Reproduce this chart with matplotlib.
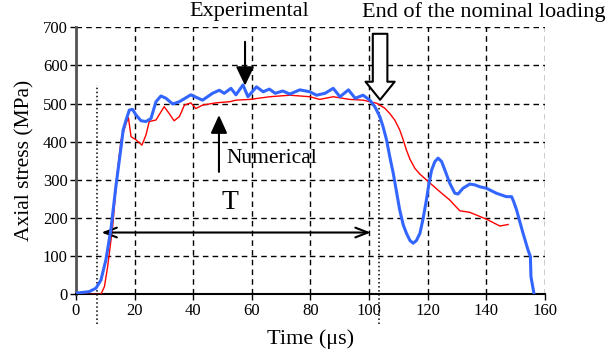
import numpy as np
import matplotlib.pyplot as plt

plt.rcParams['font.family'] = ['Liberation Serif', 'DejaVu Serif']
plt.rcParams['figure.dpi'] = 100

# experimental curve (blue)
t_exp = [0, 4.5, 6.8, 8.5, 10.2, 11.9, 13.6, 15.4, 16.1, 17.1, 18.2, 19.3, 20.5, 22.2, 23.9,
         25.6, 27.3, 29, 30.7, 33, 35.3, 39.2, 43.2, 46.6, 48.9, 50.6, 52.9, 54.6,
         57, 58.7, 61.6, 63.9, 66, 68, 70.6, 73, 76.4, 79.8, 82.1, 85, 87.8, 90.1,
         93, 95.3, 98, 100.3, 102, 103.7, 104.8, 106, 107.1, 108.3, 109.4, 110.5, 111.7,
         112.8, 114, 115.1, 116.2, 117.4, 118.5, 119.6, 120.5, 121.4, 122.5, 123.6, 124.8,
         125.9, 127.6, 129.3, 130.4, 132.1, 134.4, 136.1, 137.8, 140.1, 143.5, 146.9,
         148.7, 149.4, 150.4, 151.5, 152.6, 153.8, 154.3, 155.1, 155.3, 156.3]
s_exp = [3, 7, 16, 37, 90, 169, 282, 387, 431, 457, 483, 485, 470, 455, 453,
         461, 505, 520, 514, 499, 505, 523, 509, 527, 535, 527, 540, 523,
         549, 518, 544, 531, 538, 527, 533, 525, 536, 531, 522, 527, 540, 518,
         536, 514, 522, 509, 492, 466, 440, 405, 361, 317, 269, 221, 182,
         160, 141, 134, 141, 160, 199, 247, 291, 326, 348, 357, 348,
         326, 291, 265, 263, 278, 289, 287, 282, 278, 265, 256,
         256, 243, 221, 190, 160, 129, 116, 99, 46, 3]

# numerical curve (red)
t_num = [0, 8.5, 9.7, 10.8, 12.5, 14.2, 15.4, 17.1, 17.9, 18.8, 20.5, 22.5, 23.9,
         25, 27.3, 30.1, 31.8, 33.5, 35.3, 37, 39.2, 40.9, 43.2, 47.8, 52.5, 54.6,
         59.4, 66.2, 73, 79.8, 83.2, 87.8, 93.4, 98, 102.6, 105.4, 107.1, 108.8, 110.5,
         111.7, 112.8, 114, 115.7, 117.4, 119.6, 124.2, 127.6, 131, 134.4, 140.1,
         144.7, 147.5]
s_num = [0, 0, 20, 72, 177, 326, 405, 448, 463, 413, 405, 391, 418,
         453, 457, 492, 474, 455, 466, 496, 502, 487, 496, 502, 505, 509,
         511, 518, 522, 518, 511, 518, 511, 509, 501, 488, 474, 457, 431,
         405, 378, 354, 330, 315, 300, 269, 247, 219, 215, 197,
         179, 183]

xticks = np.arange(0, 161, 20)
yticks = np.arange(0, 701, 100)

fig = plt.figure(figsize=(6.06, 3.57))
ax = fig.add_axes([0.1254, 0.1756, 0.7735, 0.7479])

ax.plot(t_num, s_num, color='red', lw=1.0, zorder=3)
ax.plot(t_exp, s_exp, color='#3366ff', lw=2.2, zorder=4)

ax.set_xlim(0, 160)
ax.set_ylim(0, 700)
ax.set_xticks(xticks)
ax.set_yticks(yticks)
ax.grid(True, color='black', ls=(0, (4, 3)), lw=1.0)
for s in ['top', 'right']:
    ax.spines[s].set_visible(False)
ax.spines['left'].set_color('#555555')
ax.spines['left'].set_linewidth(2)
ax.spines['bottom'].set_linewidth(1.5)
ax.tick_params(labelsize=12, length=4, width=1, direction='out', pad=2)

ax.set_xlabel('Time (μs)', fontsize=16, labelpad=8)
ax.set_ylabel('Axial stress (MPa)', fontsize=15.5, labelpad=6)

# dotted markers for the loading window
ax.plot([7.2, 7.2], [-78, 550], color='black', ls=':', lw=1.1, clip_on=False)
ax.plot([103.3, 103.3], [-78, 502], color='black', ls=':', lw=1.1, clip_on=False)

ax.annotate('', xy=(8.7, 162), xytext=(100.6, 162),
            arrowprops=dict(arrowstyle='<->,head_length=0.9,head_width=0.35',
                            color='black', lw=1.5, shrinkA=0, shrinkB=0))
ax.text(52.5, 240, 'T', fontsize=20, ha='center', va='center')

ax.annotate('', xy=(57.7, 547), xytext=(57.7, 662), annotation_clip=False,
            arrowprops=dict(arrowstyle='-|>,head_length=1.15,head_width=0.55',
                            color='black', lw=1.5, shrinkA=0, shrinkB=0))
ax.text(59, 741, 'Experimental', fontsize=16, ha='center', va='center', clip_on=False)

ax.annotate('', xy=(48.8, 470), xytext=(48.8, 321),
            arrowprops=dict(arrowstyle='-|>,head_length=1.1,head_width=0.5',
                            color='black', lw=1.5, shrinkA=0, shrinkB=0))
ax.text(67, 357, 'Numerical', fontsize=15.5, ha='center', va='center')

ax.annotate('', xy=(103.8, 510), xytext=(103.8, 683), annotation_clip=False,
            arrowprops=dict(arrowstyle='simple,head_length=1.3,head_width=2.1,tail_width=1.05',
                            fc='white', ec='black', lw=1.5, shrinkA=0, shrinkB=0))
ax.text(139.3, 741, 'End of the nominal loading', fontsize=16, ha='center', va='center',
        clip_on=False)

fig.savefig('out.png', dpi=100)
